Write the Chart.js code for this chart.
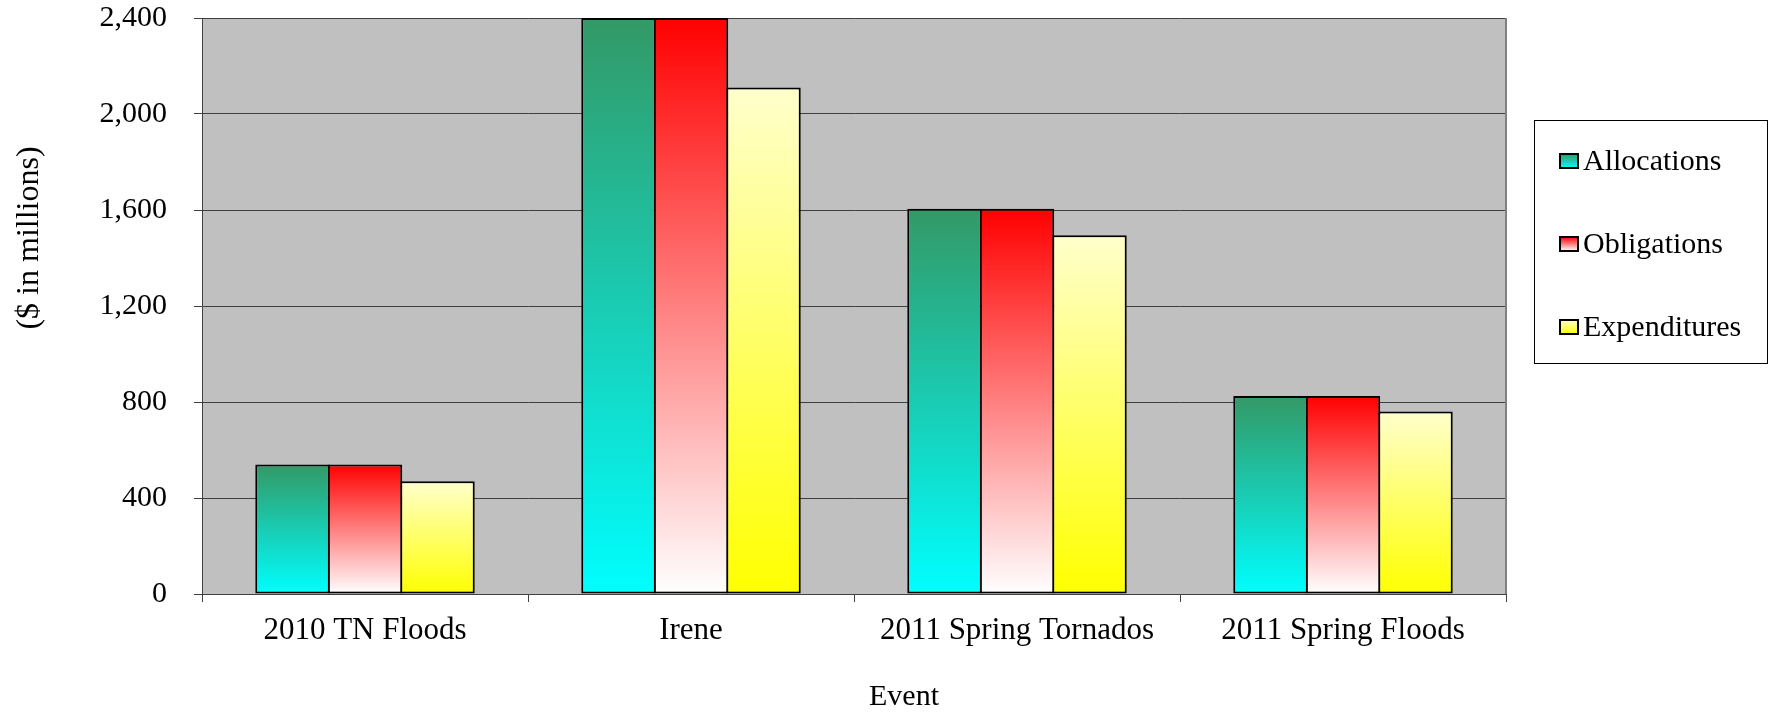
<!DOCTYPE html>
<html>
<head>
<meta charset="utf-8">
<script src="https://cdn.jsdelivr.net/npm/chart.js@4.4.1/dist/chart.umd.min.js"></script>
<style>
html,body{margin:0;padding:0;background:#fff;}
canvas{display:block;}
</style>
</head>
<body>
<canvas id="c" width="1771" height="712"></canvas>
<script>
// ---- Data ----
const categories = ['2010 TN Floods', 'Irene', '2011 Spring Tornados', '2011 Spring Floods'];
const seriesNames = ['Allocations', 'Obligations', 'Expenditures'];
const allocations = [540, 2400, 1605, 825];
const obligations = [540, 2400, 1605, 825];
const expenditures = [470, 2110, 1495, 760];
const yMin = 0, yMax = 2400, yStep = 400;
const yTitle = '($ in millions)';
const xTitle = 'Event';

// ---- Styles ----
const FONT = '"Liberation Serif", "Times New Roman", serif';
const gradStops = [
  ['#339966', '#00ffff'],
  ['#ff0000', '#ffffff'],
  ['#ffffcc', '#ffff00']
];

function barGradient(i) {
  return function (ctx) {
    const chart = ctx.chart;
    if (ctx.type !== 'data' || !chart.chartArea || !chart.scales.y) return gradStops[i][1];
    const ys = chart.scales.y;
    const top = ys.getPixelForValue(ctx.raw);
    const bot = ys.getPixelForValue(0);
    if (!isFinite(top) || !isFinite(bot) || top === bot) return gradStops[i][1];
    const g = chart.ctx.createLinearGradient(0, top, 0, bot);
    g.addColorStop(0, gradStops[i][0]);
    g.addColorStop(1, gradStops[i][1]);
    return g;
  };
}

const seriesValues = [allocations, obligations, expenditures];

const plotDecor = {
  id: 'plotDecor',
  beforeDraw(chart) {
    const {ctx, chartArea: a} = chart;
    ctx.save();
    ctx.fillStyle = '#c0c0c0';
    ctx.fillRect(a.left, a.top, a.right - a.left, a.bottom - a.top);
    ctx.restore();
  },
  beforeDatasetsDraw(chart) {
    const {ctx, chartArea: a} = chart;
    ctx.save();
    ctx.strokeStyle = '#808080';
    ctx.lineWidth = 2;
    ctx.beginPath();
    ctx.moveTo(a.right, a.top);
    ctx.lineTo(a.right, a.bottom);
    ctx.stroke();
    ctx.restore();
  },
  afterDraw(chart) {
    const ctx = chart.ctx;
    ctx.save();
    ctx.fillStyle = '#000';
    // y title
    ctx.font = '32px ' + FONT;
    ctx.textAlign = 'center';
    ctx.textBaseline = 'alphabetic';
    ctx.translate(38, 238);
    ctx.rotate(-Math.PI / 2);
    ctx.fillText(yTitle, 0, 0);
    ctx.restore();

    ctx.save();
    ctx.fillStyle = '#000';
    ctx.font = '30px ' + FONT;
    ctx.textAlign = 'center';
    ctx.textBaseline = 'alphabetic';
    ctx.fillText(xTitle, 904, 705);
    ctx.restore();

    // legend
    ctx.save();
    ctx.strokeStyle = '#000';
    ctx.lineWidth = 1;
    ctx.strokeRect(1534.5, 120.5, 233, 243);
    const baselines = [170, 253, 336];
    chart.data.datasets.forEach((ds, i) => {
      const yb = baselines[i];
      const sx = 1560, sy = yb - 16, sw = 18, sh = 14;
      const g = ctx.createLinearGradient(0, sy, 0, sy + sh);
      g.addColorStop(0, gradStops[i][0]);
      g.addColorStop(1, gradStops[i][1]);
      ctx.fillStyle = g;
      ctx.fillRect(sx, sy, sw, sh);
      ctx.lineWidth = 2;
      ctx.strokeStyle = '#000';
      ctx.strokeRect(sx, sy, sw, sh);
      ctx.fillStyle = '#000';
      ctx.font = '30px ' + FONT;
      ctx.textAlign = 'left';
      ctx.textBaseline = 'alphabetic';
      ctx.fillText(ds.label, 1583, yb);
    });
    ctx.restore();
  }
};

new Chart(document.getElementById('c'), {
  type: 'bar',
  data: {
    labels: categories,
    datasets: seriesNames.map((name, i) => ({
      label: name,
      data: seriesValues[i],
      backgroundColor: barGradient(i),
      borderColor: '#000',
      borderWidth: 2,
      borderSkipped: false,
      categoryPercentage: 0.667,
      barPercentage: 1.028
    }))
  },
  options: {
    responsive: false,
    devicePixelRatio: 1,
    animation: false,
    layout: { padding: { top: 18, right: 265, left: 0, bottom: 0 } },
    plugins: {
      legend: { display: false },
      tooltip: { enabled: false },
      title: { display: false }
    },
    scales: {
      x: {
        offset: true,
        grid: {
          offset: true,
          drawOnChartArea: false,
          drawTicks: true,
          tickLength: 8,
          color: '#404040',
          lineWidth: 1
        },
        border: { display: true, color: '#404040', width: 1 },
        ticks: {
          font: { family: FONT, size: 31 },
          color: '#000',
          padding: 10,
          maxRotation: 0,
          autoSkip: false
        },
        afterFit(s) { s.height = 118; s.paddingLeft = 0; s.paddingRight = 0; }
      },
      y: {
        min: yMin,
        max: yMax,
        grid: {
          color: '#404040',
          lineWidth: 1,
          drawTicks: true,
          tickLength: 8
        },
        border: { display: true, color: '#404040', width: 1 },
        ticks: {
          stepSize: yStep,
          font: { family: FONT, size: 30 },
          color: '#000',
          padding: 27,
          callback: (v) => Number(v).toLocaleString('en-US')
        },
        afterFit(s) { s.width = 202; s.paddingTop = 0; s.paddingBottom = 0; }
      }
    }
  },
  plugins: [plotDecor]
});
</script>
</body>
</html>
